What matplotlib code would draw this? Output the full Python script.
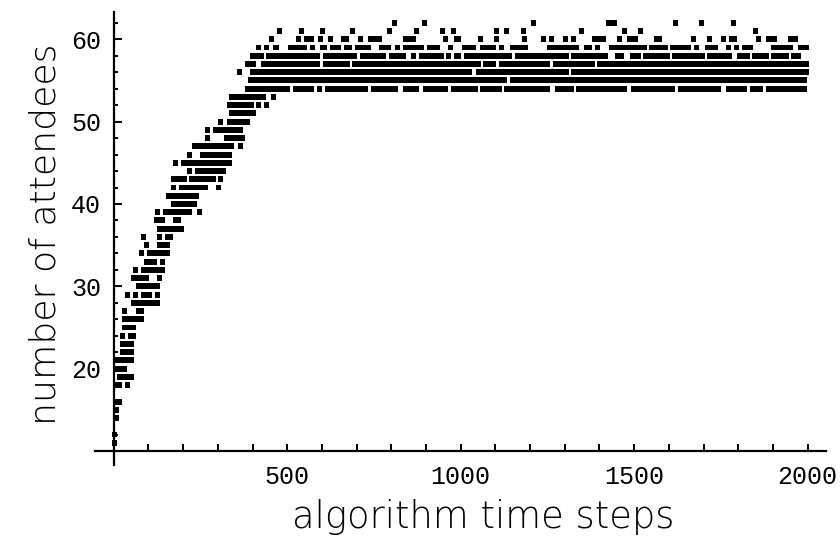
import matplotlib
matplotlib.use("Agg")
import matplotlib.pyplot as plt
from matplotlib import font_manager
from matplotlib.ticker import MultipleLocator

# runs of time steps (first, last) at which each attendance level was seen
at_62 = [(809, 809), (896, 896), (1209, 1209), (1427, 1444), (1618, 1618), (1695, 1695), (1787, 1787)]
at_61 = [(477, 477), (540, 540), (602, 602), (687, 687), (795, 795), (872, 872), (949, 949), (978, 978),
         (1102, 1102), (1131, 1131), (1180, 1180), (1349, 1349), (1473, 1473), (1518, 1518), (1850, 1850)]
at_60 = [(456, 456), (532, 532), (556, 571), (595, 595), (624, 624), (662, 672), (710, 710), (740, 766),
         (840, 864), (956, 956), (987, 994), (1057, 1057), (1102, 1102), (1185, 1185), (1240, 1240),
         (1262, 1262), (1302, 1302), (1326, 1326), (1386, 1413), (1457, 1457), (1487, 1504), (1564, 1574),
         (1672, 1672), (1718, 1718), (1758, 1758), (1780, 1789), (1858, 1858), (1888, 1906), (1951, 1966)]
at_59 = [(418, 418), (441, 441), (465, 470), (509, 550), (572, 572), (602, 607), (631, 648), (671, 680),
         (703, 734), (772, 793), (819, 819), (840, 886), (911, 934), (972, 972), (1011, 1036), (1064, 1095),
         (1119, 1119), (1149, 1186), (1256, 1334), (1364, 1372), (1395, 1395), (1434, 1529), (1550, 1589),
         (1610, 1658), (1681, 1681), (1710, 1735), (1773, 1773), (1796, 1796), (1819, 1836), (1903, 1951),
         (1979, 1997)]
at_58 = [(400, 425), (446, 588), (610, 694), (718, 779), (802, 834), (865, 865), (886, 944), (966, 966),
         (987, 995), (1018, 1141), (1165, 1305), (1326, 1418), (1451, 1465), (1495, 1512), (1533, 1596),
         (1617, 1696), (1718, 1774), (1803, 1827), (1848, 1882), (1903, 1938), (1958, 1973)]
at_57 = [(386, 403), (432, 588), (610, 673), (695, 1050), (1072, 1096), (1117, 1249), (1273, 1380), (1401, 1997)]
at_56 = [(362, 362), (400, 1026), (1050, 1305), (1326, 1997)]
at_55 = [(393, 1127), (1149, 1990)]
at_54 = [(386, 502), (525, 571), (594, 594), (617, 726), (748, 811), (841, 872), (900, 957), (979, 1042),
         (1064, 1111), (1133, 1249), (1280, 1319), (1341, 1473), (1497, 1611), (1634, 1742), (1773, 1819),
         (1841, 1865), (1888, 1990)]
at_53 = [(340, 431), (460, 460)]
at_52 = [(333, 396), (418, 418), (441, 441)]
at_51 = [(340, 403)]
at_50 = [(309, 309), (333, 386)]
at_49 = [(271, 271), (294, 364)]
at_48 = [(271, 271), (325, 372)]
at_47 = [(234, 340), (364, 364)]
at_46 = [(218, 218), (256, 333)]
at_45 = [(179, 179), (201, 333)]
at_44 = [(218, 218), (242, 317)]
at_43 = [(171, 203), (224, 287), (309, 309)]
at_42 = [(172, 172), (195, 264), (302, 302)]
at_41 = [(157, 240)]
at_40 = [(171, 232)]
at_39 = [(125, 125), (148, 218), (248, 248)]
at_38 = [(124, 141), (177, 186)]
at_37 = [(131, 194)]
at_36 = [(85, 85), (132, 132), (155, 163)]
at_35 = [(95, 95), (131, 155)]
at_34 = [(79, 79), (102, 155)]
at_33 = [(94, 117), (141, 141)]
at_32 = [(64, 64), (85, 141)]
at_31 = [(56, 95), (132, 132)]
at_30 = [(70, 127)]
at_29 = [(40, 40), (64, 64), (85, 103), (125, 125)]
at_28 = [(56, 127)]
at_27 = [(32, 32), (70, 80)]
at_26 = [(32, 80)]
at_25 = [(32, 56)]
at_24 = [(25, 25), (47, 56)]
at_23 = [(25, 50)]
at_22 = [(25, 50)]
at_21 = [(5, 50)]
at_20 = [(6, 32)]
at_19 = [(17, 50)]
at_18 = [(6, 18), (41, 41)]
at_16 = [(6, 18)]
at_15 = [(9, 9)]
at_14 = [(9, 9)]
at_12 = [(3, 3)]
at_11 = [(3, 3)]

runs = {
    62: at_62, 61: at_61, 60: at_60, 59: at_59, 58: at_58, 57: at_57, 56: at_56, 55: at_55,
    54: at_54, 53: at_53, 52: at_52, 51: at_51, 50: at_50, 49: at_49, 48: at_48, 47: at_47,
    46: at_46, 45: at_45, 44: at_44, 43: at_43, 42: at_42, 41: at_41, 40: at_40, 39: at_39,
    38: at_38, 37: at_37, 36: at_36, 35: at_35, 34: at_34, 33: at_33, 32: at_32, 31: at_31,
    30: at_30, 29: at_29, 28: at_28, 27: at_27, 26: at_26, 25: at_25, 24: at_24, 23: at_23,
    22: at_22, 21: at_21, 20: at_20, 19: at_19, 18: at_18, 16: at_16, 15: at_15, 14: at_14,
    12: at_12, 11: at_11,
}

x_ticks = [500, 1000, 1500, 2000]
y_ticks = [20, 30, 40, 50, 60]

# point size in data units
half_w = 7.2
half_h = 0.36


def light_font():
    # thin sans face for the axis labels, if one is installed
    prefs = [("DejaVu Sans", 200), ("Roboto", 300), ("Lato", 300), ("Open Sans", 300),
             ("Inter", 300), ("Noto Sans", 300)]
    for name, weight in prefs:
        for f in font_manager.fontManager.ttflist:
            w = f.weight if isinstance(f.weight, int) else font_manager.weight_dict.get(f.weight, 400)
            if f.name == name and w == weight and f.style == "normal":
                return font_manager.FontProperties(fname=f.fname)
    return font_manager.FontProperties(family="DejaVu Sans")


fig = plt.figure(figsize=(8.4, 5.41), dpi=100)
ax = fig.add_axes([95 / 840, (541 - 465) / 541, 731 / 840, 453.3 / 541])

for lvl, segs in runs.items():
    ax.broken_barh([(a - half_w, b - a + 2 * half_w) for a, b in segs],
                   (lvl - half_h, 2 * half_h), facecolors="black", linewidth=0)

ax.set_xlim(-54, 2053)
ax.set_ylim(8.3, 63.35)

for s in ["top", "right"]:
    ax.spines[s].set_visible(False)
ax.spines["left"].set_position(("data", 0))
ax.spines["bottom"].set_position(("data", 10))
for s in ["left", "bottom"]:
    ax.spines[s].set_linewidth(1.6)

ax.set_xticks(x_ticks)
ax.set_yticks(y_ticks)
ax.xaxis.set_minor_locator(MultipleLocator(100))
ax.yaxis.set_minor_locator(MultipleLocator(2))
ax.tick_params(which="both", direction="in", width=1.4)
ax.tick_params(axis="x", which="both", length=5, pad=10)
ax.tick_params(axis="y", which="major", length=5.5, pad=9)
ax.tick_params(axis="y", which="minor", length=3)
for lab in ax.get_xticklabels() + ax.get_yticklabels():
    lab.set_fontfamily("Liberation Mono")
    lab.set_fontsize(18)

fp = light_font()
fp.set_size(27)
xl = ax.set_xlabel("algorithm time steps", fontproperties=fp, ha="center", va="baseline")
ax.xaxis.set_label_coords((483 - 95) / 731, (465 - 528) / 453.3)
yl = ax.set_ylabel("number of attendees", fontproperties=fp, rotation=90,
                   rotation_mode="anchor", ha="center", va="baseline")
ax.yaxis.set_label_coords((56 - 95) / 731, (465 - 234) / 453.3)

# scale the label size so the text spans the same length as in the reference
fig.canvas.draw()
r = fig.canvas.get_renderer()
xl.set_fontsize(27 * 383 / xl.get_window_extent(r).width)
yl.set_fontsize(27 * 383 / yl.get_window_extent(r).height)

fig.savefig("out.png", dpi=100)
